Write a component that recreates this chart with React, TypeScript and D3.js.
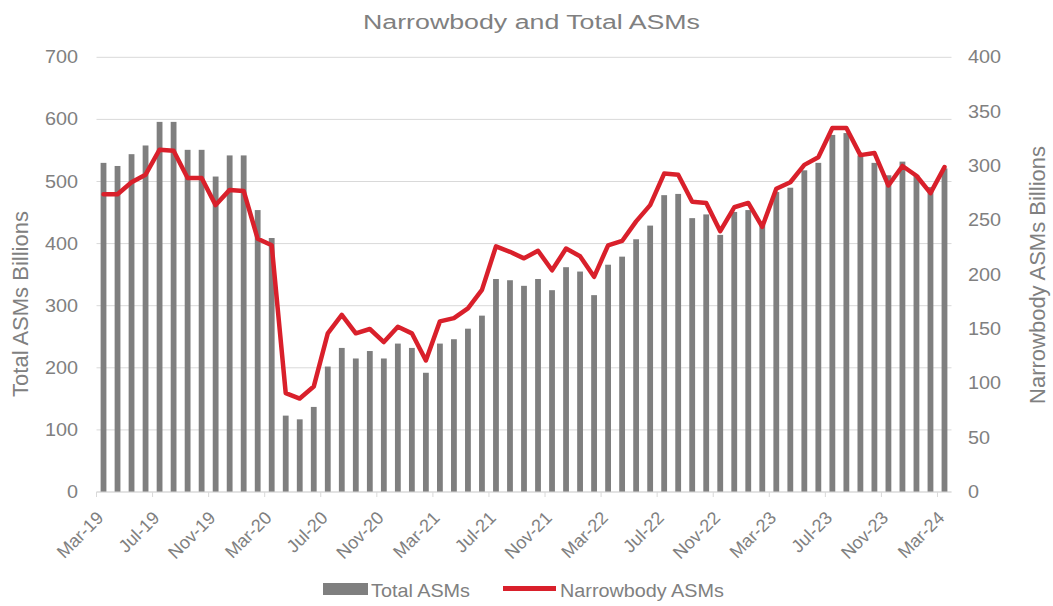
import React from "react";
import * as d3 from "d3";

const months = [
  "Mar-19","Apr-19","May-19","Jun-19","Jul-19","Aug-19","Sep-19","Oct-19","Nov-19","Dec-19","Jan-20","Feb-20",
  "Mar-20","Apr-20","May-20","Jun-20","Jul-20","Aug-20","Sep-20","Oct-20","Nov-20","Dec-20","Jan-21","Feb-21",
  "Mar-21","Apr-21","May-21","Jun-21","Jul-21","Aug-21","Sep-21","Oct-21","Nov-21","Dec-21","Jan-22","Feb-22",
  "Mar-22","Apr-22","May-22","Jun-22","Jul-22","Aug-22","Sep-22","Oct-22","Nov-22","Dec-22","Jan-23","Feb-23",
  "Mar-23","Apr-23","May-23","Jun-23","Jul-23","Aug-23","Sep-23","Oct-23","Nov-23","Dec-23","Jan-24","Feb-24",
  "Mar-24"
];

const totalASMs = [
  530, 525, 544, 558, 596, 596, 551, 551, 508, 542, 542, 454,
  409, 123, 117, 137, 202, 232, 215, 227, 215, 239, 232, 192,
  239, 246, 263, 284, 343, 341, 332, 343, 325, 362, 355, 317,
  366, 379, 407, 429, 478, 480, 441, 447, 414, 451, 454, 430,
  483, 490, 518, 530, 575, 578, 542, 530, 510, 532, 510, 491,
  521
];

const narrowbodyASMs = [
  274, 274, 285, 292, 315, 314, 289, 289, 264, 278, 277, 233,
  227, 91, 86, 97, 146, 163, 146, 150, 138, 152, 146, 121,
  157, 160, 169, 186, 226, 221, 215, 222, 204, 224, 217, 198,
  227, 231, 249, 264, 293, 292, 267, 266, 240, 262, 266, 244,
  279, 285, 301, 308, 335, 335, 310, 312, 282, 300, 291, 275,
  299
];

const leftTicks = [0, 100, 200, 300, 400, 500, 600, 700];
const rightTicks = [0, 50, 100, 150, 200, 250, 300, 350, 400];
const xTickLabels = [
  "Mar-19","Jul-19","Nov-19","Mar-20","Jul-20","Nov-20","Mar-21","Jul-21",
  "Nov-21","Mar-22","Jul-22","Nov-22","Mar-23","Jul-23","Nov-23","Mar-24"
];

const W = 1053;
const H = 606;
const PL = 96.5;
const PR = 951.5;
const PT = 57.3;
const PB = 492;
const FONT = "'Liberation Sans', Arial, sans-serif";
const TEXT = "#808080";
const GRID = "#d9d9d9";
const BAR = "#7f7f7f";
const RED = "#d9202b";

export default function App() {
  const x = d3
    .scaleBand<string>()
    .domain(months)
    .range([PL, PR])
    .paddingInner(0.586)
    .paddingOuter(0.293);
  const yL = d3.scaleLinear().domain([0, 700]).range([PB, PT]);
  const yR = d3.scaleLinear().domain([0, 400]).range([PB, PT]);
  const cx = (m: string) => (x(m) as number) + x.bandwidth() / 2;
  const edge = (m: string) => (x(m) as number) - (x.step() - x.bandwidth()) / 2;

  const linePath = d3
    .line<number>()
    .x((_, i) => cx(months[i]))
    .y((d) => yR(d))(narrowbodyASMs) as string;

  return (
    <svg
      width={W}
      height={H}
      style={{ position: "absolute", left: 0, top: 0, display: "block", background: "#fff" }}
      fontFamily={FONT}
    >
      {/* title */}
      <text x={363} y={29} fontSize={20} fill={TEXT} textLength={337} lengthAdjust="spacingAndGlyphs">
        Narrowbody and Total ASMs
      </text>

      {/* gridlines */}
      {leftTicks.map((t) => (
        <line key={"g" + t} x1={PL} x2={PR} y1={yL(t)} y2={yL(t)} stroke={GRID} strokeWidth={1} />
      ))}

      {/* bars */}
      {totalASMs.map((v, i) => (
        <rect
          key={"b" + i}
          x={x(months[i]) as number}
          y={yL(v)}
          width={x.bandwidth()}
          height={PB - yL(v)}
          fill={BAR}
        />
      ))}

      {/* x axis */}
      <line x1={PL} x2={PR} y1={PB} y2={PB} stroke={GRID} strokeWidth={1} />
      {xTickLabels.map((m) => (
        <line key={"t" + m} x1={edge(m)} x2={edge(m)} y1={PB} y2={PB + 5} stroke={GRID} strokeWidth={1} />
      ))}
      {xTickLabels.map((m) => (
        <text
          key={"xl" + m}
          transform={`translate(${cx(m) + 1},${PB + 27}) rotate(-45)`}
          textAnchor="end"
          fontSize={18}
          fill={TEXT}
        >
          {m}
        </text>
      ))}

      {/* line */}
      <path d={linePath} fill="none" stroke={RED} strokeWidth={4.5} strokeLinejoin="round" strokeLinecap="round" />

      {/* left ticks */}
      {leftTicks.map((t) => (
        <text
          key={"l" + t}
          transform={`translate(78,${yL(t) + 6}) scale(1.1,1)`}
          textAnchor="end"
          fontSize={18}
          fill={TEXT}
        >
          {t}
        </text>
      ))}
      {/* right ticks */}
      {rightTicks.map((t) => (
        <text
          key={"r" + t}
          transform={`translate(968,${yR(t) + 6}) scale(1.1,1)`}
          textAnchor="start"
          fontSize={18}
          fill={TEXT}
        >
          {t}
        </text>
      ))}

      {/* axis titles */}
      <text
        transform={`translate(28,304) rotate(-90)`}
        textAnchor="middle"
        fontSize={22}
        fill={TEXT}
      >
        Total ASMs Billions
      </text>
      <text
        transform={`translate(1045,275) rotate(-90)`}
        textAnchor="middle"
        fontSize={22}
        fill={TEXT}
      >
        Narrowbody ASMs Billions
      </text>

      {/* legend */}
      <rect x={323} y={583} width={45} height={12} fill={BAR} />
      <text transform="translate(371,597) scale(1.1,1)" fontSize={18} fill={TEXT}>
        Total ASMs
      </text>
      <line x1={503} x2={556} y1={588.5} y2={588.5} stroke={RED} strokeWidth={5} />
      <text transform="translate(560,597) scale(1.1,1)" fontSize={18} fill={TEXT}>
        Narrowbody ASMs
      </text>
    </svg>
  );
}
